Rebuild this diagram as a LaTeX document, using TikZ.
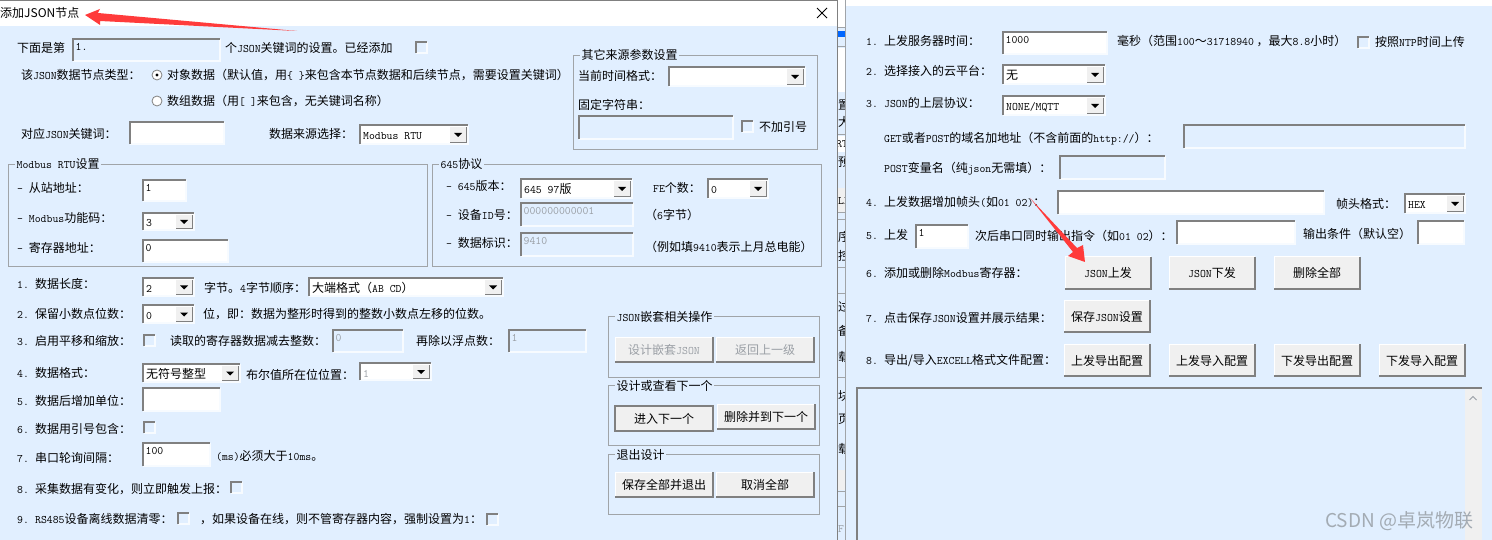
\documentclass[tikz,border=0pt]{standalone}
\usepackage{fontspec}
\setmainfont{Noto Sans CJK SC}
\usetikzlibrary{calc}

\definecolor{bodyblue}{HTML}{E1EFFF}
\definecolor{btnface}{HTML}{F0F0F0}
\definecolor{edgedark}{HTML}{808080}
\definecolor{edgelight}{HTML}{F7FBFF}
\definecolor{groupline}{HTML}{A0A4A8}
\definecolor{greytext}{HTML}{9A9FA5}
\definecolor{arrowred}{HTML}{FF3B3B}
\definecolor{markgrey}{HTML}{A3ABB3}

\tikzset{
    lbl/.style={anchor=west, inner sep=0pt, text height=11pt, text depth=1pt, font=\fontsize{12}{12}\selectfont},
    midlbl/.style={lbl, anchor=center},
    grouplbl/.style={lbl, fill=bodyblue, inner xsep=1.5pt},
    greylbl/.style={lbl, text=greytext},
    stripline/.style={groupline, line width=1pt}
}

% half-width latin text of the dialogs
\newcommand{\mn}[1]{{\ttfamily\fontsize{11.43}{12}\selectfont #1}}

% name, x0, y0, x1, y1, fill, text
\newcommand{\sunkenbox}[7]{
    \fill[#6] (#2,#3) rectangle (#4,#5);
    \draw[edgelight, line width=1.2pt] (#2,#5) -| (#4,#3);
    \draw[edgedark, line width=1.4pt] (#2,#5) |- (#4,#3);
    \node[lbl, anchor=north west, yshift=1pt] (#1) at ({#2+2.5},{#3+1.5}) {#7};
}
% name, x0, y0, x1, y1, text
\newcommand{\combobox}[6]{
    \sunkenbox{#1}{#2}{#3}{#4}{#5}{white}{}
    \node[lbl] (#1text) at ({#2+3},{(#3+#5)/2+0.5}) {#6};
    \fill[btnface] ({#4-18},{#3+2}) rectangle ({#4-2},{#5-1.5});
    \draw[edgedark, line width=1pt] ({#4-18},{#5-1.5}) -| ({#4-2},{#3+2});
    \fill[black] ({#4-14},{(#3+#5)/2-1.5}) -- ({#4-6},{(#3+#5)/2-1.5}) -- ({#4-10},{(#3+#5)/2+2.5}) -- cycle;
}
% name, x0, y0, x1, y1, text
\newcommand{\pushbtn}[6]{
    \fill[btnface] (#2,#3) rectangle (#4,#5);
    \draw[white, line width=1pt] (#2,#5) |- (#4,#3);
    \draw[edgedark, line width=1.4pt] (#2,#5) -| (#4,#3);
    \node[midlbl] (#1) at ({(#2+#4)/2},{(#3+#5)/2}) {#6};
}
% name, x0, y0 (12 px square)
\newcommand{\checkbox}[3]{
    \coordinate (#1) at (#2,#3);
    \draw[edgelight, line width=1.2pt] (#2,{#3+11}) -| ({#2+11},#3);
    \draw[edgedark, line width=1.2pt] (#2,{#3+11}) |- ({#2+11},#3);
}
% name, x0, y0, x1, y1, title
\newcommand{\groupbox}[6]{
    \draw[groupline, line width=0.8pt] (#2,#3) rectangle (#4,#5);
    \node[grouplbl] (#1) at ({#2+7},#3) {#6};
}

\begin{document}
\begin{tikzpicture}[x=1pt, y=-1pt]

    \useasboundingbox (0,0) rectangle (1492,540);

    % The window backgrounds
    \fill[bodyblue] (0,0) rectangle (1492,540);
    \fill[white] (0,1) rectangle (837,26);
    \fill[white] (845,0) rectangle (1492,6);

    % Strip of the window behind, between the two dialogs
    \fill[white] (838,0) rectangle (845,27);
    \fill[blue!60!cyan] (838,31) rectangle (845,37);
    \fill[white] (838,48) rectangle (845,92);
    \fill[white] (838,136) rectangle (845,152);
    \fill[btnface] (838,188) rectangle (845,212);
    \fill[btnface] (838,470) rectangle (845,490);
    \draw[stripline] (838,28) -- (845,28);
    \draw[stripline] (838,47) -- (845,47);
    \draw[stripline] (838,135) -- (845,135);
    \draw[stripline] (838,213) -- (845,213);
    \draw[stripline] (838,220) -- (845,220);
    \draw[stripline] (838,268) -- (845,268);
    \draw[stripline] (838,294) -- (845,294);
    \draw[stripline] (838,377) -- (845,377);
    \draw[stripline] (838,491) -- (845,491);
    \draw[stripline] (838,506) -- (845,506);
    \begin{scope}
        \clip (838,0) rectangle (845,540);
        \foreach \y/\t in {105/置,122/大,162/预,237/序,256/控,306/过,330/备,356/载,395/块,418/页,448/载}
            \node[lbl] (frag\y) at (838,\y) {\t};
        \node[lbl] (fragu) at (836,143) {\mn{RTU}};
        \node[lbl] (fragl) at (838,200) {\mn{LL}};
        \node[greylbl] (fragf) at (838,527) {\mn{F}};
    \end{scope}
    \draw[groupline, line width=1pt] (845,0) -- (845,540);

    % Title bar of the left dialog
    \draw[edgedark, line width=1.5pt] (0,0.5) -- (837,0.5);
    \draw[edgedark, line width=1.5pt] (837.5,0) -- (837.5,540);
    \node[lbl] (dlgtitle) at (0,13) {添加JSON节点};
    \draw[black, line width=0.8pt] (817,8) -- (827,18);
    \draw[black, line width=0.8pt] (827,8) -- (817,18);

    % Top rows of the left dialog
    \node[lbl] (nextlbl) at (17,48) {下面是第};
    \sunkenbox{nextidx}{73}{39}{220}{61}{bodyblue}{\mn{1.}}
    \node[lbl] (keysetlbl) at (225,48) {个\mn{JSON}关键词的设置。已经添加};
    \checkbox{addedchk}{416}{42}
    \node[lbl] (typelbl) at (21,75) {该\mn{JSON}数据节点类型：};
    \draw[edgedark, fill=white, line width=0.8pt] (157,75) circle (5);
    \fill[black] (157,75) circle (1.7);
    \node[lbl] (objlbl) at (167,75) {对象数据（默认值，用\mn{\{ \}}来包含本节点数据和后续节点，需要设置关键词）};
    \draw[edgedark, fill=white, line width=0.8pt] (157,101) circle (5);
    \node[lbl] (arrlbl) at (167,101) {数组数据（用\mn{[ ]}来包含，无关键词名称）};
    \node[lbl] (keylbl) at (21,134) {对应\mn{JSON}关键词：};
    \sunkenbox{keyfield}{130}{122}{224}{144}{white}{}
    \node[lbl] (srclbl) at (269,134) {数据来源选择：};
    \combobox{srccombo}{360}{125}{468}{144}{\mn{Modbus RTU}}

    % Other sources group
    \groupbox{othergrp}{573}{55}{817}{149}{其它来源参数设置}
    \node[lbl] (timelbl) at (578,76) {当前时间格式：};
    \combobox{timecombo}{669}{67}{805}{86}{}
    \node[lbl] (fixedlbl) at (578,105) {固定字符串：};
    \sunkenbox{fixedfield}{579}{116}{733}{139}{bodyblue}{}
    \checkbox{noquotechk}{742}{121}
    \node[lbl] (noquotelbl) at (759,127) {不加引号};

    % Modbus RTU group
    \groupbox{modbusgrp}{8}{164}{427}{266}{\mn{Modbus RTU}设置}
    \node[lbl] (slavelbl) at (17,188) {\mn{- }从站地址：};
    \sunkenbox{slavefield}{143}{180}{186}{201}{white}{\mn{1}}
    \node[lbl] (funclbl) at (17,218) {\mn{- Modbus}功能码：};
    \combobox{funccombo}{143}{213}{194}{230}{\mn{3}}
    \node[lbl] (reglbl) at (17,248) {\mn{- }寄存器地址：};
    \sunkenbox{regfield}{143}{240}{228}{262}{white}{\mn{0}}

    % 645 group
    \groupbox{dltgrp}{432}{164}{821}{266}{\mn{645}协议}
    \node[lbl] (verlbl) at (446,186) {\mn{- 645}版本：};
    \combobox{vercombo}{521}{179}{632}{198}{\mn{645 97}版}
    \node[lbl] (felbl) at (653,188) {\mn{FE}个数：};
    \combobox{fecombo}{708}{179}{768}{198}{\mn{0}}
    \node[lbl] (idlbl) at (446,215) {\mn{- }设备\mn{ID}号：};
    \sunkenbox{idfield}{521}{203}{633}{226}{bodyblue}{\textcolor{greytext}{\mn{000000000001}}}
    \node[lbl] (idnote) at (645,215) {（\mn{6}字节）};
    \node[lbl] (marklbl) at (446,243) {\mn{- }数据标识：};
    \sunkenbox{markfield}{521}{233}{633}{256}{bodyblue}{\textcolor{greytext}{\mn{9410}}}
    \node[lbl] (marknote) at (645,247) {（例如填\mn{9410}表示上月总电能）};

    % Numbered rows of the left dialog
    \node[lbl] (num1) at (17,283) {\mn{1.}};
    \node[lbl] (lenlbl) at (35,283) {数据长度：};
    \combobox{lencombo}{143}{278}{194}{296}{\mn{2}}
    \node[lbl] (bytelbl) at (204,287) {字节。\mn{4}字节顺序：};
    \combobox{ordercombo}{309}{278}{503}{296}{大端格式（\mn{AB CD}）}
    \node[lbl] (num2) at (17,314) {\mn{2.}};
    \node[lbl] (declbl) at (35,314) {保留小数点位数：};
    \combobox{deccombo}{143}{305}{194}{323}{\mn{0}}
    \node[lbl] (bitlbl) at (203,314) {位，即：数据为整形时得到的整数小数点左移的位数。};
    \node[lbl] (num3) at (17,340) {\mn{3.}};
    \node[lbl] (scalelbl) at (35,340) {启用平移和缩放：};
    \checkbox{scalechk}{144}{335}
    \node[lbl] (sublbl) at (170,340) {读取的寄存器数据减去整数：};
    \sunkenbox{subfield}{333}{330}{403}{352}{bodyblue}{\textcolor{greytext}{\mn{0}}}
    \node[lbl] (divlbl) at (416,340) {再除以浮点数：};
    \sunkenbox{divfield}{509}{330}{586}{352}{bodyblue}{\textcolor{greytext}{\mn{1}}}
    \node[lbl] (num4) at (17,372) {\mn{4.}};
    \node[lbl] (fmtlbl) at (35,372) {数据格式：};
    \combobox{fmtcombo}{143}{364}{240}{382}{无符号整型}
    \node[lbl] (boollbl) at (246,374) {布尔值所在位位置：};
    \combobox{boolcombo}{360}{363}{431}{380}{\textcolor{greytext}{\mn{1}}}
    \node[lbl] (num5) at (17,400) {\mn{5.}};
    \node[lbl] (unitlbl) at (35,400) {数据后增加单位：};
    \sunkenbox{unitfield}{143}{388}{220}{411}{white}{}
    \node[lbl] (num6) at (17,428) {\mn{6.}};
    \node[lbl] (quotelbl) at (35,428) {数据用引号包含：};
    \checkbox{quotechk}{144}{422}
    \node[lbl] (num7) at (17,457) {\mn{7.}};
    \node[lbl] (polllbl) at (35,457) {串口轮询间隔：};
    \sunkenbox{pollfield}{143}{443}{210}{466}{white}{\mn{100}}
    \node[lbl] (pollnote) at (216,455) {\mn{(ms)}必须大于\mn{10ms}。};
    \node[lbl] (num8) at (17,488) {\mn{8.}};
    \node[lbl] (trigglbl) at (35,488) {采集数据有变化，则立即触发上报：};
    \checkbox{trigchk}{231}{482}
    \node[lbl] (num9) at (17,518) {\mn{9.}};
    \node[lbl] (offlbl) at (35,518) {\mn{RS485}设备离线数据清零：};
    \checkbox{offchk}{178}{513}
    \node[lbl] (onlbl) at (200,518) {，如果设备在线，则不管寄存器内容，强制设置为\mn{1}：};
    \checkbox{onchk}{487}{514}

    % Button groups of the left dialog
    \groupbox{nestgrp}{608}{316}{819}{377}{\mn{JSON}嵌套相关操作}
    \pushbtn{nestbtn}{615}{337}{713}{362}{\textcolor{greytext}{设计嵌套\mn{JSON}}}
    \pushbtn{upbtn}{716}{337}{814}{362}{\textcolor{greytext}{返回上一级}}
    \groupbox{nextgrp}{608}{385}{819}{445}{设计或查看下一个}
    \pushbtn{enterbtn}{615}{406}{713}{431}{进入下一个}
    \draw[edgedark, line width=1.2pt] (615,406) rectangle (713,431);
    \pushbtn{delnextbtn}{717}{404}{815}{429}{删除并到下一个}
    \groupbox{quitgrp}{608}{454}{819}{514}{退出设计}
    \pushbtn{savebtn}{615}{472}{713}{497}{保存全部并退出}
    \pushbtn{cancelbtn}{716}{472}{814}{497}{取消全部}

    % Rows of the right window
    \node[lbl] (rnum1) at (866,41) {\mn{1.}};
    \node[lbl] (timerlbl) at (884,41) {上发服务器时间：};
    \sunkenbox{timerfield}{1003}{32}{1107}{54}{white}{\mn{1000}}
    \node[lbl] (timernote) at (1117,41) {毫秒（范围\mn{100}～\mn{31718940} ，最大\mn{8.8}小时）};
    \checkbox{ntpchk}{1358}{37}
    \node[lbl] (ntplbl) at (1375,42) {按照\mn{NTP}时间上传};
    \node[lbl] (rnum2) at (866,71) {\mn{2.}};
    \node[lbl] (cloudlbl) at (884,71) {选择接入的云平台：};
    \combobox{cloudcombo}{1003}{65}{1105}{84}{无}
    \node[lbl] (rnum3) at (866,103) {\mn{3.}};
    \node[lbl] (protolbl) at (884,103) {\mn{JSON}的上层协议：};
    \combobox{protocombo}{1003}{96}{1105}{115}{\mn{NONE/MQTT}}
    \node[lbl] (hostlbl) at (884,138) {\mn{GET}或者\mn{POST}的域名加地址（不含前面的\mn{http://}）：};
    \sunkenbox{hostfield}{1184}{125}{1465}{148}{bodyblue}{}
    \node[lbl] (postlbl) at (884,168) {\mn{POST}变量名（纯\mn{json}无需填）：};
    \sunkenbox{postfield}{1060}{156}{1165}{179}{bodyblue}{}
    \node[lbl] (rnum4) at (866,202) {\mn{4.}};
    \node[lbl] (headlbl) at (884,202) {上发数据增加帧头\mn{(}如\mn{01 02)}：};
    \sunkenbox{headfield}{1058}{191}{1324}{214}{white}{}
    \node[lbl] (headfmtlbl) at (1336,204) {帧头格式：};
    \combobox{headcombo}{1405}{194}{1465}{213}{\mn{HEX}}
    \node[lbl] (rnum5) at (866,235) {\mn{5.}};
    \node[lbl] (sendlbl) at (884,235) {上发};
    \sunkenbox{sendfield}{916}{225}{968}{248}{white}{\mn{1}}
    \node[lbl] (cmdlbl) at (975,236) {次后串口同时输出指令（如\mn{01 02}）：};
    \sunkenbox{cmdfield}{1177}{221}{1295}{244}{white}{}
    \node[lbl] (condlbl) at (1303,234) {输出条件（默认空）};
    \sunkenbox{condfield}{1418}{221}{1464}{244}{white}{}
    \node[lbl] (rnum6) at (866,272) {\mn{6.}};
    \node[lbl] (addlbl) at (884,272) {添加或删除\mn{Modbus}寄存器：};
    \pushbtn{upjson}{1065}{257}{1151}{289}{\mn{JSON}上发}
    \pushbtn{downjson}{1169}{257}{1255}{289}{\mn{JSON}下发}
    \pushbtn{delall}{1274}{257}{1360}{289}{删除全部}
    \node[lbl] (rnum7) at (866,317) {\mn{7.}};
    \node[lbl] (showlbl) at (884,317) {点击保存\mn{JSON}设置并展示结果：};
    \pushbtn{savejson}{1064}{300}{1150}{332}{保存\mn{JSON}设置}
    \node[lbl] (rnum8) at (866,359) {\mn{8.}};
    \node[lbl] (xlslbl) at (884,359) {导出/导入\mn{EXCELL}格式文件配置：};
    \pushbtn{upexport}{1064}{344}{1150}{376}{上发导出配置}
    \pushbtn{upimport}{1169}{344}{1255}{376}{上发导入配置}
    \pushbtn{downexport}{1274}{344}{1360}{376}{下发导出配置}
    \pushbtn{downimport}{1379}{344}{1465}{376}{下发导入配置}

    % Result box with its scroll bar
    \fill[btnface] (1465,389) rectangle (1482,540);
    \draw[edgedark, line width=1.4pt] (857,540) |- (1482,388);
    \draw[greytext, line width=1pt] (1469.5,400) -- (1473,396.5) -- (1476.5,400);

    % Red arrows laid over the screenshot
    \coordinate (titletip) at (85,15);
    \coordinate (titletail) at (297,31);
    \fill[arrowred] (titletip) -- (100,9) -- (98,13) -- (titletail) -- (100,21) -- (100,25) -- cycle;
    \coordinate (jsontail) at (1030,198);
    \coordinate (jsontip) at (1085,262);
    \fill[arrowred] (jsontail) -- (1077,248) -- (1083,245) -- (jsontip) -- (1068,256) -- (1073,252) -- cycle;

    % Watermark
    \node[lbl, text=markgrey, font=\fontsize{19}{19}\selectfont] (watermark) at (1325,522) {CSDN @卓岚物联};

\end{tikzpicture}
\end{document}
